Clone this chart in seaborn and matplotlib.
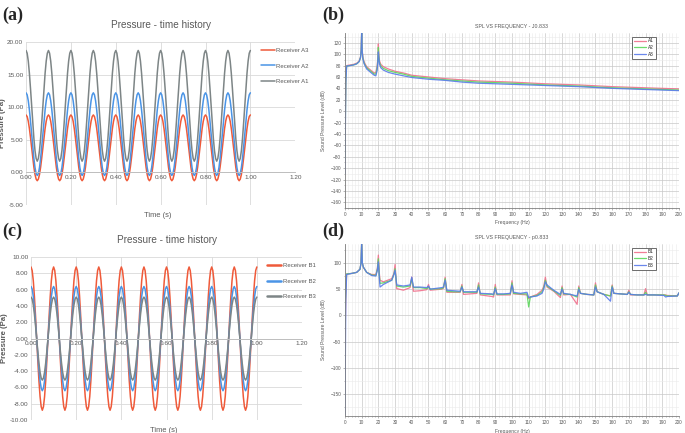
import numpy as np
import pandas as pd
import matplotlib
matplotlib.use('Agg')
import matplotlib.pyplot as plt
from matplotlib.ticker import MultipleLocator
import seaborn as sns

# --- data: one period (0.1 s, 20 samples) of each receiver ---
cycle_a3 = [8.8, 8.55, 7.84, 6.72, 5.31, 3.75, 2.19, 0.78, -0.34, -1.05,
            -1.3, -1.05, -0.34, 0.78, 2.19, 3.75, 5.31, 6.72, 7.84, 8.55]
cycle_a2 = [12.2, 11.89, 10.99, 9.58, 7.81, 5.85, 3.89, 2.12, 0.71, -0.19,
            -0.5, -0.19, 0.71, 2.12, 3.89, 5.85, 7.81, 9.58, 10.99, 11.89]
cycle_a1 = [18.7, 18.28, 17.08, 15.2, 12.83, 10.2, 7.57, 5.2, 3.32, 2.12,
            1.7, 2.12, 3.32, 5.2, 7.57, 10.2, 12.83, 15.2, 17.08, 18.28]
cycle_b1 = [8.8, 8.37, 7.12, 5.17, 2.72, 0.0, -2.72, -5.17, -7.12, -8.37,
            -8.8, -8.37, -7.12, -5.17, -2.72, 0.0, 2.72, 5.17, 7.12, 8.37]
cycle_b2 = [6.4, 6.09, 5.18, 3.76, 1.98, 0.0, -1.98, -3.76, -5.18, -6.09,
            -6.4, -6.09, -5.18, -3.76, -1.98, 0.0, 1.98, 3.76, 5.18, 6.09]
cycle_b3 = [5.1, 4.85, 4.13, 3.0, 1.58, 0.0, -1.58, -3.0, -4.13, -4.85,
            -5.1, -4.85, -4.13, -3.0, -1.58, 0.0, 1.58, 3.0, 4.13, 4.85]
n_cycles = 10

# --- SPL spectra, receivers A ---
freq_b = [0, 0.5, 1, 3, 5, 7, 8.5, 9.3, 9.7, 10,
          10.3, 10.7, 11.5, 13, 15, 17.5, 18.5, 19.3, 19.7, 20,
          20.3, 20.7, 21.5, 23, 26, 30, 35, 40, 50, 60,
          70, 80, 90, 100, 120, 140, 160, 180, 200]
spl_a1 = [-60, 62, 80, 81, 82, 84, 88, 95, 108, 140,
          108, 95, 86, 78, 73, 67, 68, 80, 95, 118,
          98, 88, 82, 78, 74, 70, 67, 63, 60, 57,
          55, 53, 52, 51, 48, 46, 43, 41, 39]
spl_a2 = [-85, 55, 79, 80, 81, 83, 87, 94, 106, 140,
          106, 93, 84, 76, 71, 65, 65, 76, 92, 112,
          95, 85, 79, 75, 71, 68, 65, 61, 58, 55,
          53, 51, 50, 49, 46, 44, 41, 39, 37]
spl_a3 = [-110, 50, 79, 80, 81, 83, 87, 94, 106, 140,
          106, 92, 83, 74, 69, 63, 62, 72, 88, 104,
          92, 82, 76, 72, 68, 65, 62, 59, 56, 54,
          51, 49, 48, 47, 45, 43, 40, 38, 36]

# --- SPL spectra, receivers B ---
freq_d = [0, 0.5, 1, 4, 7, 9, 9.6, 10, 10.4, 11,
          13, 16, 18.5, 19.4, 20, 20.6, 21, 23, 28, 29.3,
          30, 30.7, 31, 35, 39, 40, 41, 45, 49, 50,
          51, 58, 59, 60, 61, 65, 69, 70, 71, 75,
          79, 80, 81, 88, 89, 90, 91, 95, 99, 100,
          101, 105, 109, 110, 111, 115, 118, 119, 120, 121,
          125, 129, 130, 131, 135, 139, 140, 141, 145, 149,
          150, 151, 155, 159, 160, 161, 165, 169, 170, 171,
          175, 179, 180, 181, 185, 191, 192, 193, 199, 200]
spl_b1 = [-60, 40, 79, 80, 82, 88, 100, 140, 100, 92,
          82, 78, 78, 90, 115, 80, 67, 64, 70, 80,
          97, 65, 51, 48, 53, 73, 46, 47, 49, 59,
          48, 50, 52, 73, 44, 44, 44, 59, 40, 41,
          42, 62, 39, 36, 35, 59, 39, 39, 39, 66,
          41, 40, 39, 32, 35, 40, 48, 55, 73, 54,
          46, 34, 56, 39, 40, 21, 56, 42, 40, 39,
          62, 45, 40, 37, 58, 42, 41, 40, 48, 39,
          39, 39, 51, 39, 39, 39, 39, 38, 37, 43]
spl_b2 = [-20, 60, 79, 80, 82, 88, 100, 140, 100, 92,
          82, 77, 76, 88, 108, 75, 61, 62, 67, 78,
          89, 66, 56, 54, 56, 70, 53, 53, 51, 54,
          50, 51, 53, 70, 46, 45, 45, 56, 44, 44,
          44, 58, 41, 40, 39, 54, 40, 40, 41, 62,
          42, 41, 41, 16, 35, 38, 45, 52, 67, 56,
          47, 38, 53, 41, 40, 35, 53, 42, 40, 39,
          58, 45, 40, 37, 56, 42, 41, 40, 45, 40,
          39, 39, 44, 39, 39, 39, 38, 37, 37, 43]
spl_b3 = [-190, 30, 78, 80, 82, 88, 100, 140, 100, 92,
          82, 76, 75, 86, 102, 70, 54, 59, 67, 78,
          86, 66, 58, 56, 58, 73, 54, 54, 53, 56,
          50, 53, 54, 67, 48, 47, 46, 54, 45, 45,
          45, 54, 42, 41, 40, 51, 41, 41, 42, 58,
          44, 42, 44, 34, 35, 37, 42, 50, 64, 58,
          48, 40, 50, 42, 40, 37, 50, 42, 40, 39,
          54, 45, 40, 27, 54, 42, 41, 40, 44, 40,
          39, 39, 40, 39, 39, 38, 35, 36, 37, 43]

# build the time axis (200 steps of 5 ms) and repeat the period
t = np.round(np.arange(n_cycles * 20 + 1) * 0.005, 3)
def repeat(cycle):
    return np.append(np.tile(cycle, n_cycles), cycle[0])

sns.set_theme(style='white')
plt.rcParams['font.family'] = ['Liberation Sans', 'DejaVu Sans']

RED, BLUE, GRAY = '#EF5A3A', '#4A94E6', '#7D8586'
PINK, GREEN, LBLUE = '#F0708C', '#5CD65C', '#5A7BEA'
TXT = '#595959'

fig = plt.figure(figsize=(6.85, 4.33), dpi=100)

def time_panel(rect, series, ylim, ystep, leg_lw):
    ax = fig.add_axes(rect)
    for vals, lab, col in series:
        sns.lineplot(x=t, y=repeat(vals), ax=ax, color=col, lw=1.1, label=lab)
    ax.set_xlim(0, 1.2)
    ax.set_ylim(*ylim)
    ax.set_xticks(np.arange(0, 1.21, 0.2))
    ax.set_xticklabels([f'{v:.2f}' for v in np.arange(0, 1.21, 0.2)])
    yt = np.arange(ylim[0], ylim[1] + 0.1, ystep)
    ax.set_yticks(yt)
    ax.set_yticklabels([f'{v:.2f}' for v in yt])
    ax.grid(True, color='#D9D9D9', lw=0.6)
    for s in ['top', 'right', 'left']:
        ax.spines[s].set_visible(False)
    ax.spines['bottom'].set_position(('data', 0))
    ax.spines['bottom'].set_color('#BFBFBF')
    ax.spines['bottom'].set_linewidth(0.7)
    ax.tick_params(length=0, labelsize=4.6, labelcolor=TXT, pad=2)
    ax.set_xlabel('')
    ax.set_ylabel('Pressure (Pa)', fontsize=5.6, fontweight='bold', color=TXT, labelpad=1)
    ax.text(0.49, -0.065, 'Time (s)', transform=ax.transAxes, ha='center', va='center',
            fontsize=5.4, color=TXT)
    ax.set_title('Pressure - time history', fontsize=7.2, color=TXT, pad=10)
    leg = ax.legend(loc='upper left', bbox_to_anchor=(0.872, 0.965), frameon=False,
                    fontsize=4.3, handlelength=2.3, labelspacing=1.75,
                    borderaxespad=0, borderpad=0, handletextpad=0.3)
    for h in leg.get_lines():
        h.set_linewidth(leg_lw)
    for tx in leg.get_texts():
        tx.set_color(TXT)
    return ax

def spl_panel(rect, freq, series, ylim, ymajor, yminor, title, xlab_y):
    ax = fig.add_axes(rect)
    for vals, lab, col in series:
        sns.lineplot(x=freq, y=vals, ax=ax, color=col, lw=0.9, alpha=0.9, label=lab)
    ax.set_xlim(0, 200)
    ax.set_ylim(*ylim)
    ax.xaxis.set_major_locator(MultipleLocator(10))
    ax.xaxis.set_minor_locator(MultipleLocator(2))
    ax.yaxis.set_major_locator(MultipleLocator(ymajor))
    ax.yaxis.set_minor_locator(MultipleLocator(yminor))
    ax.grid(True, which='major', color='#C8C8C8', lw=0.5)
    ax.grid(True, which='minor', color='#EBEBEB', lw=0.4)
    for s in ['top', 'right']:
        ax.spines[s].set_visible(False)
    for s in ['left', 'bottom']:
        ax.spines[s].set_color('#808080')
        ax.spines[s].set_linewidth(0.6)
    ax.tick_params(which='both', direction='out', length=1.5, width=0.4, color='#808080',
                   labelsize=3.4, labelcolor=TXT, pad=1.2)
    ax.tick_params(which='minor', length=1)
    ax.tick_params(axis='y', which='both', left=True)
    ax.tick_params(axis='x', which='both', bottom=True)
    ax.set_title(title, fontsize=3.8, color=TXT, pad=4)
    ax.set_xlabel('Frequency (Hz)', fontsize=3.6, color=TXT)
    ax.xaxis.set_label_coords(0.5, xlab_y)
    ax.set_ylabel('Sound Pressure Level (dB)', fontsize=3.6, color=TXT)
    ax.yaxis.set_label_coords(-0.058, 0.5)
    leg = ax.legend(loc='upper right', bbox_to_anchor=(0.93, 0.98), fontsize=3.4,
                    handlelength=2.6, labelspacing=0.35, borderpad=0.4,
                    handletextpad=0.4, fancybox=False, framealpha=1, borderaxespad=0)
    leg.get_frame().set_edgecolor('#555555')
    leg.get_frame().set_linewidth(0.6)
    return ax

time_panel([0.038, 0.527, 0.393, 0.376],
           [(cycle_a3, 'Receiver A3', RED), (cycle_a2, 'Receiver A2', BLUE),
            (cycle_a1, 'Receiver A1', GRAY)],
           (-5, 20), 5, 1.1)
time_panel([0.0453, 0.030, 0.3956, 0.376],
           [(cycle_b1, 'Receiver B1', RED), (cycle_b2, 'Receiver B2', BLUE),
            (cycle_b3, 'Receiver B3', GRAY)],
           (-10, 10), 2, 1.8)

spl_panel([0.5036, 0.5196, 0.4876, 0.404], freq_b,
          [(spl_a1, 'A1', PINK), (spl_a2, 'A2', GREEN), (spl_a3, 'A3', LBLUE)],
          (-170, 137), 20, 10, 'SPL VS FREQUENCY - J0.833', -0.068)
spl_panel([0.5036, 0.0393, 0.4876, 0.397], freq_d,
          [(spl_b1, 'B1', PINK), (spl_b2, 'B2', GREEN), (spl_b3, 'B3', LBLUE)],
          (-192, 136), 50, 25, 'SPL VS FREQUENCY - p0.833', -0.075)

# panel letters
for lab, x, y in [('(a)', 0.004, 0.985), ('(b)', 0.470, 0.985),
                  ('(c)', 0.004, 0.485), ('(d)', 0.470, 0.485)]:
    fig.text(x, y, lab, fontsize=13, fontweight='bold', va='top', ha='left',
             family='Liberation Serif')

fig.savefig('out.png', dpi=100)
